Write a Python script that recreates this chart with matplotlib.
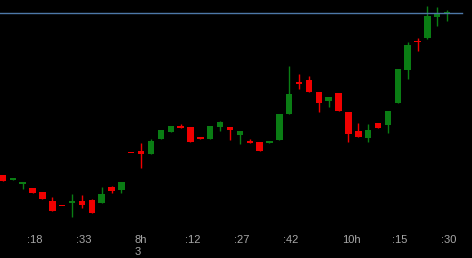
import matplotlib
matplotlib.use("Agg")
import matplotlib.pyplot as plt
import numpy as np

# candle data (open, high, low, close), one candle per bar
opens = [58.3, 57.8, 57.4, 57.0, 56.6, 55.7, 55.22, 55.55, 55.7, 55.8,
         55.5, 57.1, 56.8, 60.52, 60.7, 60.4, 61.9, 62.6, 63.2, 63.1,
         62.1, 61.9, 63.1, 63.1, 62.3, 61.65, 61.6, 61.5, 61.8, 64.4,
         67.5, 67.8, 66.6, 65.7, 66.5, 64.6, 62.7, 62.0, 63.5, 63.3,
         65.5, 68.8, 71.65, 72.0, 74.1, 74.5]
highs = [58.3, 58.0, 57.6, 57.0, 56.6, 56.1, 55.22, 56.4, 56.3, 55.9,
         57.1, 57.2, 57.6, 60.52, 61.5, 61.9, 62.8, 63.2, 63.4, 63.1,
         62.1, 63.2, 63.7, 63.1, 62.7, 61.9, 61.6, 61.7, 64.4, 69.2,
         68.4, 68.2, 66.6, 66.1, 66.5, 64.6, 63.5, 63.4, 63.5, 64.7,
         68.9, 71.6, 72.0, 75.2, 75.1, 74.8]
lows = [57.7, 57.8, 56.9, 56.5, 55.9, 54.7, 55.17, 54.1, 55.0, 54.5,
        55.5, 56.5, 56.5, 60.48, 59.0, 60.4, 61.9, 62.6, 63.0, 61.6,
        61.9, 61.9, 62.7, 61.8, 61.4, 61.55, 60.7, 61.5, 61.8, 64.4,
        66.9, 66.6, 64.6, 65.1, 64.7, 61.6, 62.1, 61.6, 63.0, 62.5,
        65.5, 67.9, 70.7, 71.9, 73.2, 73.7]
closes = [57.7, 58.0, 57.6, 56.5, 55.9, 54.7, 55.17, 55.65, 55.3, 54.5,
          56.4, 56.7, 57.6, 60.48, 60.4, 61.7, 62.8, 63.2, 63.0, 61.6,
          61.9, 63.2, 63.6, 62.8, 62.7, 61.55, 60.7, 61.7, 64.4, 66.4,
          67.45, 66.6, 65.5, 66.1, 64.7, 62.4, 62.1, 62.8, 63.0, 64.7,
          68.9, 71.3, 71.6, 74.2, 74.5, 74.55]

tick_pos = [3.2, 8.2, 14.0, 19.2, 24.2, 29.2, 35.3, 40.2, 45.2]
tick_labels = [":18", ":33", "8h\n3", ":12", ":27", ":42", "10h", ":15", ":30"]

UP = "#0a7d14"
DOWN = "#f00000"

fig = plt.figure(figsize=(4.72, 2.58), dpi=100)
fig.patch.set_facecolor("black")
ax = fig.add_axes([0, 30 / 258, 1, 228 / 258])
ax.set_facecolor("black")

x = np.arange(len(opens))
o = np.array(opens)
c = np.array(closes)
colors = [UP if cc >= oo else DOWN for oo, cc in zip(o, c)]

ax.vlines(x, lows, highs, colors=colors, linewidth=1)
body = np.maximum(np.abs(c - o), 0.1)
ax.bar(x, body, bottom=np.minimum(o, c), width=0.65, color=colors,
       linewidth=0)

# last price line
ax.axhline(closes[-1], xmin=0, xmax=462 / 472, color="#4d78a8", linewidth=1)

ax.set_xlim(-0.3, 47.52)
ax.set_ylim(53.0, 75.8)
ax.set_yticks([])
ax.set_xticks(tick_pos)
ax.set_xticklabels(tick_labels, family="Liberation Sans", fontsize=8,
                   color="#a8a8a8", multialignment="left")
ax.tick_params(axis="x", length=0, pad=5)
for s in ax.spines.values():
    s.set_visible(False)

fig.savefig("out.png", dpi=100, facecolor="black")
